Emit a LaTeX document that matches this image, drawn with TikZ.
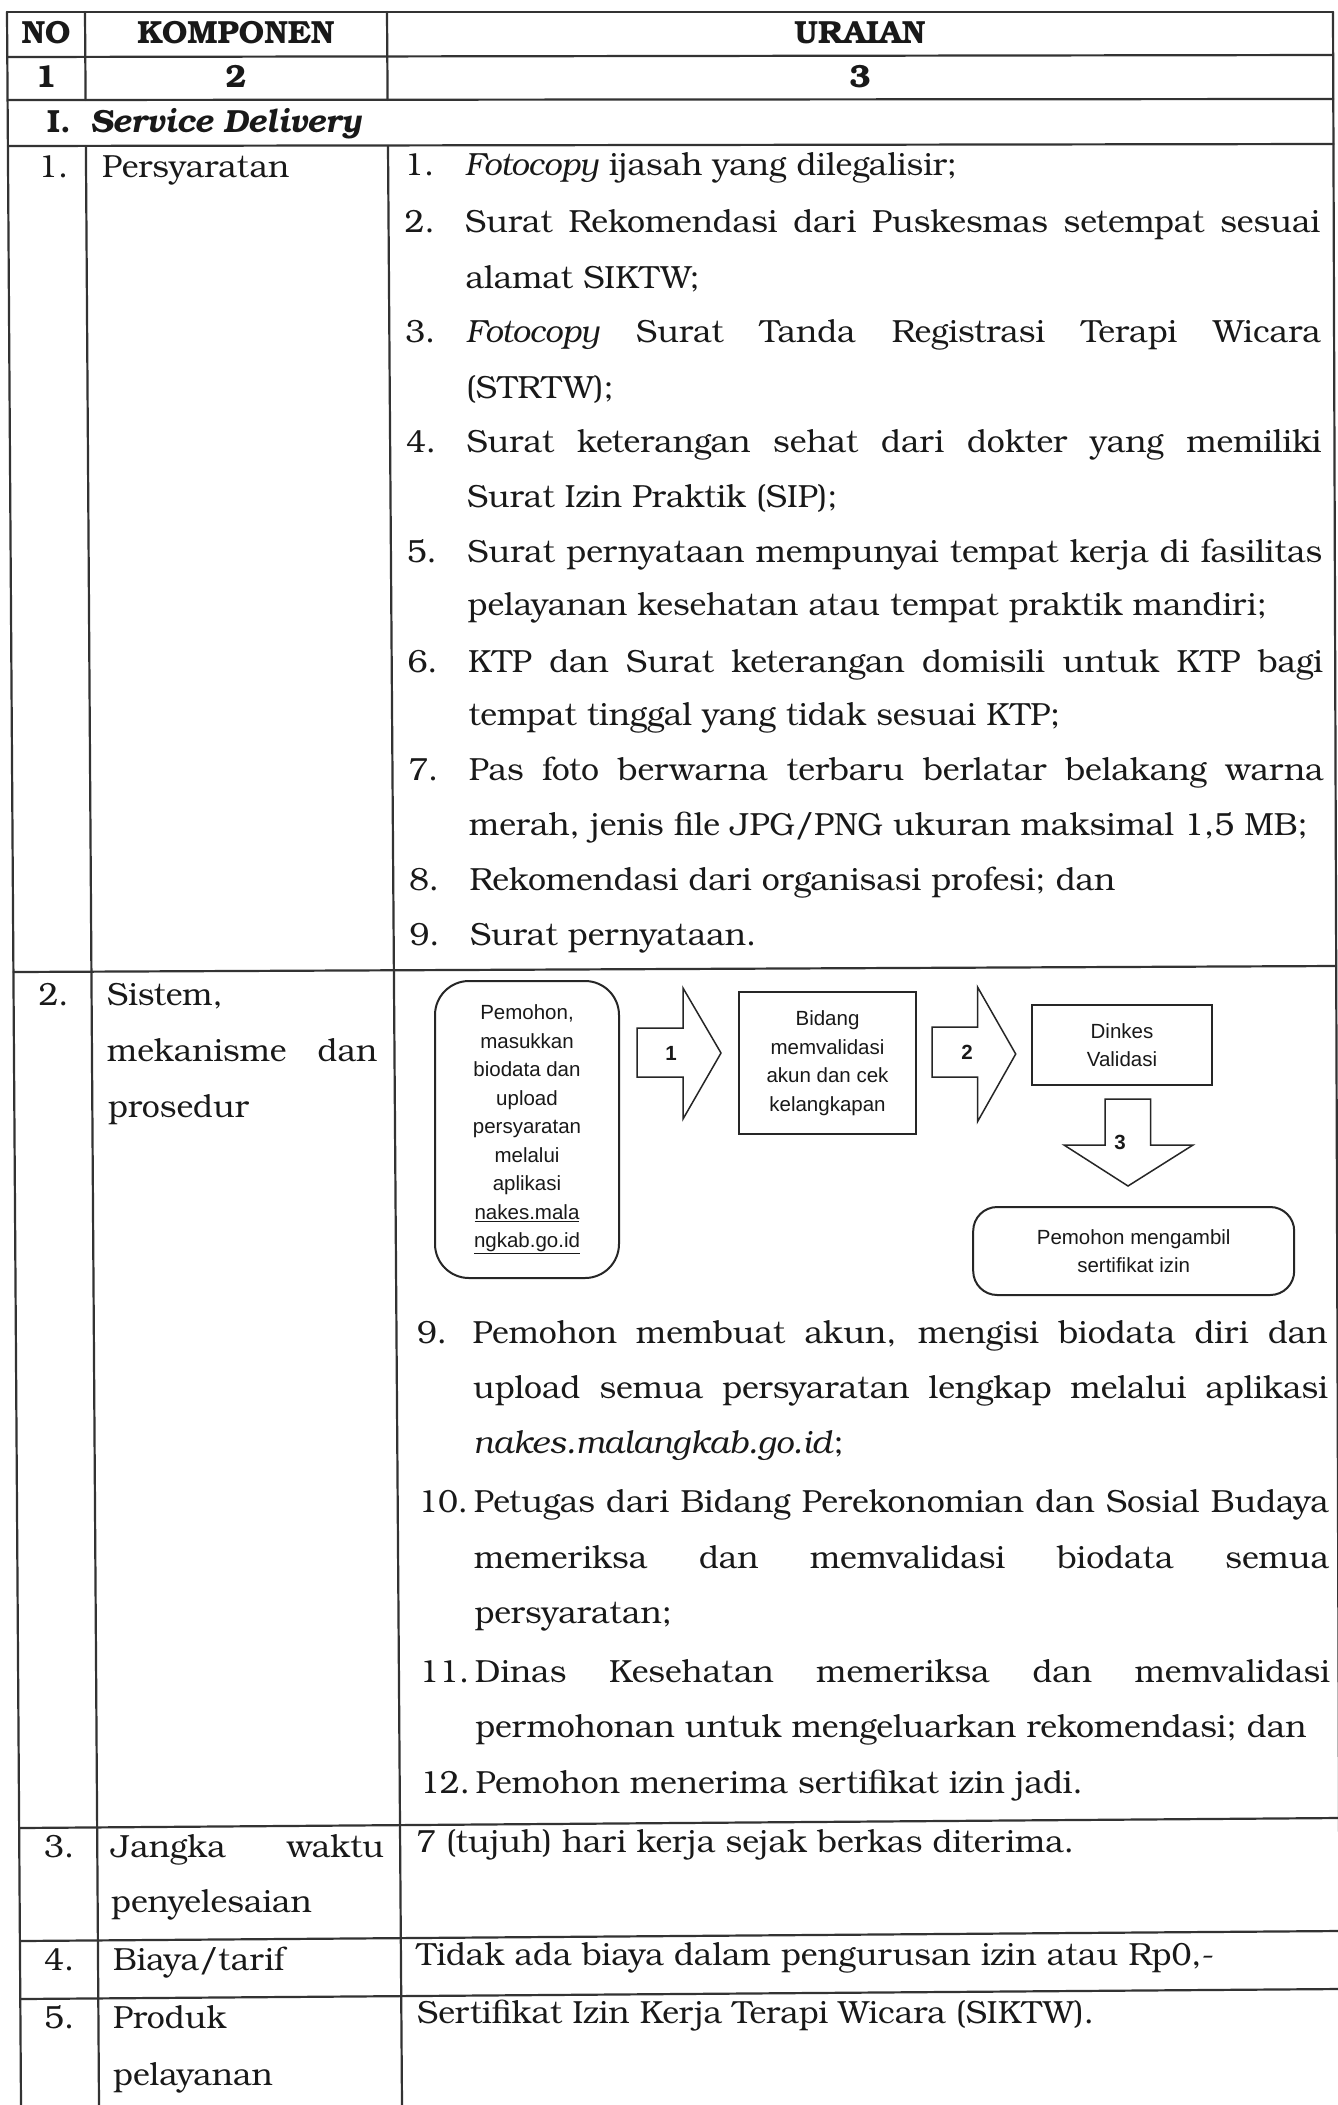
\documentclass[tikz,border=0pt]{standalone}
\usepackage{fontspec}
\setmainfont{texgyrebonum}[Extension=.otf,UprightFont=*-regular,BoldFont=*-bold,ItalicFont=*-italic,BoldItalicFont=*-bolditalic]
\newfontfamily\arialf{Liberation Sans}
\newcommand\bodyf{\rmfamily\fontsize{32}{55}\selectfont}
\newcommand\headf{\rmfamily\bfseries\fontsize{32}{40}\selectfont}
\newcommand\flowf{\arialf\fontsize{20.5}{28.5}\selectfont}
\newcommand\jl[2]{\makebox[#1pt][s]{#2}}
\begin{document}
\begin{tikzpicture}[x=1pt,y=-1pt,
 grid/.style={line width=2.2pt,draw=black!80,line cap=round},
 tx/.style={anchor=base west,inner sep=0pt,font=\bodyf,text=black!90},
 hd/.style={anchor=base,inner sep=0pt,font=\headf,text=black!90},
 flowbox/.style={draw=black!85,line width=2pt,font=\flowf,align=center,text=black!90,inner sep=0pt},
 blockarrow/.style={draw=black!85,line width=1.5pt,line join=miter},
 arrowlbl/.style={font=\flowf\bfseries,inner sep=0pt,text=black!90}]
\useasboundingbox (0,0) rectangle (1338,2105);
\fill[white] (0,0) rectangle (1338,2105);
% ---------- table grid ----------
\draw[grid] (7,12) -- (21,2105);
\draw[grid] (85,12) -- (85.6,100);
\draw[grid] (85.9,146) -- (99,2105);
\draw[grid] (387,12) -- (387.6,100);
\draw[grid] (388,146) -- (402,2105);
\draw[grid] (1333,12) -- (1340,2105);
\draw[grid] (7,12) -- (1333,12);
\draw[grid] (7.3,57) -- (1333.1,55);
\draw[grid] (7.6,100) -- (1333.3,99);
\draw[grid] (7.9,146) -- (1333.4,144);
\draw[grid] (13.4,972) -- (1336,966);
\draw[grid] (19.1,1828) -- (1338.8,1818);
\draw[grid] (19.9,1941) -- (1339.2,1931);
\draw[grid] (20.3,1999) -- (1339.4,1989);
% ---------- header ----------
\node[hd] (hNO) at (46,43.5) {NO};
\node[hd] (hKOMP) at (236,43.5) {KOMPONEN};
\node[hd] (hURA) at (860,43.5) {URAIAN};
\node[hd] (c1) at (46,87) {1};
\node[hd] (c2) at (236,87) {2};
\node[hd] (c3) at (860,87) {3};
\node[tx,font=\headf] (sec) at (47,132) {I.};
\node[tx,font=\headf\itshape] (secname) at (90,132) {Service Delivery};
% ---------- row 1 ----------
\node[tx] (n1) at (38,177) {1.};
\node[tx] (k1) at (102,177) {Persyaratan};
\node[tx] (r1n) at (404,175) {1.};
\node[tx] (r1) at (464.6,175) {\textit{Fotocopy} ijasah yang dilegalisir;};
\node[tx] (r2n) at (404.5,232) {2.};
\node[tx] (r2) at (465,232) {\jl{855}{Surat Rekomendasi dari Puskesmas setempat sesuai}};
\node[tx] (r2b) at (465.4,288) {alamat SIKTW;};
\node[tx] (r3n) at (405.2,342) {3.};
\node[tx] (r3) at (465.7,342) {\jl{855}{\textit{Fotocopy} Surat Tanda Registrasi Terapi Wicara}};
\node[tx] (r3b) at (466.1,398) {(STRTW);};
\node[tx] (r4n) at (405.9,452) {4.};
\node[tx] (r4) at (466.4,452) {\jl{855}{Surat keterangan sehat dari dokter yang memiliki}};
\node[tx] (r4b) at (466.8,507) {Surat Izin Praktik (SIP);};
\node[tx] (r5n) at (406.7,562) {5.};
\node[tx] (r5) at (467.2,562) {\jl{855}{Surat pernyataan mempunyai tempat kerja di fasilitas}};
\node[tx] (r5b) at (467.5,615) {pelayanan kesehatan atau tempat praktik mandiri;};
\node[tx] (r6n) at (407.4,672) {6.};
\node[tx] (r6) at (467.9,672) {\jl{855}{KTP dan Surat keterangan domisili untuk KTP bagi}};
\node[tx] (r6b) at (468.3,725) {tempat tinggal yang tidak sesuai KTP;};
\node[tx] (r7n) at (408.1,780) {7.};
\node[tx] (r7) at (468.6,780) {\jl{855}{Pas foto berwarna terbaru berlatar belakang warna}};
\node[tx] (r7b) at (469,835) {merah, jenis file JPG/PNG ukuran maksimal 1,5 MB;};
\node[tx] (r8n) at (408.9,890) {8.};
\node[tx] (r8) at (469.4,890) {Rekomendasi dari organisasi profesi; dan};
\node[tx] (r9n) at (409.3,945) {9.};
\node[tx] (r9) at (469.8,945) {Surat pernyataan.};
% ---------- row 2 ----------
\node[tx] (n2) at (38.3,1005) {2.};
\node[tx] (k2) at (107,1005) {Sistem,};
\node[tx] (k2b) at (107,1061) {\jl{270}{mekanisme dan}};
\node[tx] (k2c) at (108,1117) {prosedur};
% flowchart
\node[flowbox,rounded corners=34pt,minimum width=184,minimum height=297] (pem) at (527,1129.5)
  {Pemohon,\\masukkan\\biodata dan\\upload\\persyaratan\\melalui\\aplikasi\\\underline{nakes.mala}\\\underline{ngkab.go.id}};
\node[flowbox,minimum width=177,minimum height=142] (bid) at (827.5,1063)
  {Bidang\\memvalidasi\\akun dan cek\\kelangkapan};
\node[flowbox,minimum width=180,minimum height=80] (din) at (1122,1045) {Dinkes\\Validasi};
\node[flowbox,rounded corners=24pt,minimum width=321,minimum height=88] (amb) at (1133.7,1251)
  {Pemohon mengambil\\sertifikat izin};
\draw[blockarrow] (637,1028) -- (683,1028) -- (683,988) -- (721,1053) -- (683,1119) -- (683,1077) -- (637,1077) -- cycle;
\node[arrowlbl] (a1) at (671,1053) {1};
\draw[blockarrow] (932,1027) -- (977.5,1027) -- (977.5,987) -- (1015.7,1054) -- (977.5,1121.7) -- (977.5,1077) -- (932,1077) -- cycle;
\node[arrowlbl] (a2) at (967,1052) {2};
\draw[blockarrow] (1105,1099) -- (1105,1145) -- (1064,1145) -- (1128,1186) -- (1193,1145) -- (1150.6,1145) -- (1150.6,1099) -- cycle;
\node[arrowlbl] (a3) at (1120,1142) {3};
% procedure list
\node[tx] (p9n) at (416.9,1343) {9.};
\node[tx] (p9) at (472.4,1343) {\jl{855}{Pemohon membuat akun, mengisi biodata diri dan}};
\node[tx] (p9b) at (472.8,1398) {\jl{855}{upload semua persyaratan lengkap melalui aplikasi}};
\node[tx] (p9c) at (473.2,1453) {\textit{nakes.malangkab.go.id};};
\node[tx] (p10n) at (418.1,1512) {10.};
\node[tx] (p10) at (473.6,1512) {\jl{855}{Petugas dari Bidang Perekonomian dan Sosial Budaya}};
\node[tx] (p10b) at (473.9,1568) {\jl{855}{memeriksa dan memvalidasi biodata semua}};
\node[tx] (p10c) at (474.3,1623) {persyaratan;};
\node[tx] (p11n) at (419.2,1682) {11.};
\node[tx] (p11) at (474.7,1682) {\jl{855}{Dinas Kesehatan memeriksa dan memvalidasi}};
\node[tx] (p11b) at (475.1,1737) {permohonan untuk mengeluarkan rekomendasi; dan};
\node[tx] (p12n) at (419.9,1793) {12.};
\node[tx] (p12) at (475.4,1793) {Pemohon menerima sertifikat izin jadi.};
% ---------- row 3 ----------
\node[tx] (n3) at (44,1857) {3.};
\node[tx] (k3) at (111,1857) {\jl{273}{Jangka waktu}};
\node[tx] (k3b) at (111,1912) {penyelesaian};
\node[tx] (u3) at (416,1852) {7 (tujuh) hari kerja sejak berkas diterima.};
% ---------- row 4 ----------
\node[tx] (n4) at (44,1970) {4.};
\node[tx] (k4) at (113,1970) {Biaya/tarif};
\node[tx] (u4) at (416.5,1965) {Tidak ada biaya dalam pengurusan izin atau Rp0,-};
% ---------- row 5 ----------
\node[tx] (n5) at (44,2028) {5.};
\node[tx] (k5) at (113,2028) {Produk};
\node[tx] (k5b) at (113,2085) {pelayanan};
\node[tx] (u5) at (417,2023) {Sertifikat Izin Kerja Terapi Wicara (SIKTW).};
\end{tikzpicture}
\end{document}
